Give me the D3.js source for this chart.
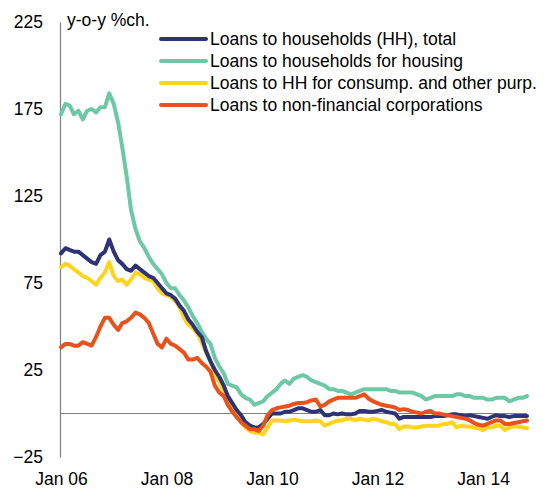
<!DOCTYPE html>
<html><head><meta charset="utf-8">
<script src="https://cdn.jsdelivr.net/npm/d3@7"></script>
<style>
body{margin:0;background:#fff;}
svg text{font-family:"Liberation Sans",Arial,sans-serif;fill:#000;}
</style></head>
<body><svg id="c" width="551" height="488"></svg>
<script>
const seriesNames = ["Loans to households (HH), total","Loans to households for housing","Loans to HH for consump. and other purp.","Loans to non-financial corporations"];
const seriesColors = ["#2e3378","#6dc8a6","#ffd41c","#e8521c"];
const yTicks = [-25, 25, 75, 125, 175, 225];
const xTickLabels = ["Jan 06","Jan 08","Jan 10","Jan 12","Jan 14"];
const xTickYears = [2006, 2008, 2010, 2012, 2014];

const householdsTotal = [92,95,94,93,93,91,89,87,86,91,93,100,93,88,86,83,82,85,83,81,79,78,75,72,69,68,66,62,59,54,51,47,44,36,30,25,21,16,10,6,2,-1,-5,-7,-8,-8,-6,-3,0,0,0,1,1,2,3,3,2,1,1,2,-1,-1,0,-0.5,0,-0.5,-0.5,0,1.5,1.5,1,1,1.5,2,1,0.5,0,-3,-2,-2,-2,-2,-2,-2,-2,-1.5,-1.5,-1.5,-1,-0.5,-0.5,-1,-1.5,-1,-1.5,-2,-2.5,-3,-2,-1,-1.5,-1.5,-2,-1.5,-1.5,-1.5,-1.5];
const housing = [172,178,177,172,174,169,174,175,173,176,176,184,178,167,153,136,117,106,99,95,90,86,83,80,75,72,72,68,65,61,56,52,47,43,40,32,27,23,17,16,15,11,9,8,5,6,7,10,12,14,17,19,17,20,21,22,21,19,18,17,16,14,14,13,13,12,11,12,13,14,14,14,14,14,14,13,13,12,12,12,12,11,10,8,9,10,10,10,10,10,11,11,10,10,9,9,9,8,8,9,9,9,7,8,9,9,10];
const consumption = [84,86,85,83,81,79,78,76,74,78,81,87,79,76,77,74,77,81,80,78,77,76,72,69,68,67,65,61,55,51,49,46,41,35,30,23,18,13,7,3,0,-5,-8,-10,-11,-11,-12,-8,-4,-4,-4,-4.5,-4,-3.5,-4,-4.5,-4.5,-4.5,-4,-4.5,-7,-6,-5,-4,-4,-3,-3,-4,-3,-3.5,-4,-3,-3.5,-4.5,-5,-6,-6,-9,-7.5,-7.5,-8,-8,-7.5,-7,-7,-7,-7,-6,-6,-5,-8,-7,-7.5,-7.5,-8,-8.5,-9.5,-8,-8,-7,-7,-9.5,-8,-7.5,-7.5,-8,-8.5];
const corporations = [38,40,40,39,39,41,40,39,44,50,55,55,51,48,52,53,55,58,57,55,52,46,40,38,43,40,39,37,35,31,31,32,29,27,24,16,12,10,5,1,-2,-5,-7,-9,-9,-10,-7,-1,2,3,3.5,4,4.5,5.5,6,6,6.5,7.5,8,4,5,7,8,9,9,9,9,9,10,11,8.5,7,6,5,4.5,4,3.5,2,2.5,2,1,0.5,0,1,1.5,0,0,-0.5,-1,-1.5,-2,-2.5,-3,-4,-5.5,-6.5,-7,-6,-5,-4,-4,-6,-6,-5.5,-5,-4.5,-4];

const allSeries = [householdsTotal, housing, consumption, corporations];
const months = householdsTotal.map((_, i) => new Date(2006, i, 1));

const svg = d3.select("#c");
const x = d3.scaleTime().domain([months[0], months[months.length-1]]).range([61, 527]);
const y = d3.scaleLinear().domain([-25, 225]).range([457, 22]);
const FS = "17.5px";

// y axis
const yAxis = d3.axisLeft(y).tickValues(yTicks).tickSize(0).tickPadding(17).tickFormat(d3.format("d"));
const gy = svg.append("g").attr("transform","translate(60,0)").call(yAxis);
gy.select(".domain").attr("stroke","#7f7f7f").attr("stroke-width",1.2);
gy.selectAll("text").style("font-size",FS);

// x axis labels
const xAxis = d3.axisBottom(x).tickValues(xTickYears.map(yr => new Date(yr,0,1)))
  .tickSize(0).tickPadding(0).tickFormat((d,i) => xTickLabels[i]);
const gx = svg.append("g").attr("transform","translate(0,457)").call(xAxis);
gx.select(".domain").remove();
gx.selectAll("text").style("font-size",FS).attr("y",28).attr("dy",null);

// zero line
svg.append("line").attr("x1",60).attr("x2",x(months[months.length-1]))
  .attr("y1",y(0)).attr("y2",y(0)).attr("stroke","#7f7f7f").attr("stroke-width",1.2);

const line = d3.line().x((d,i) => x(months[i])).y(d => y(d));
[1,2,0,3].forEach(k => {
  svg.append("path").datum(allSeries[k]).attr("d", line)
    .attr("fill","none").attr("stroke",seriesColors[k]).attr("stroke-width",4)
    .attr("stroke-linejoin","round").attr("stroke-linecap","round");
});

// unit label
svg.append("text").attr("x",67).attr("y",26).style("font-size",FS).text("y-o-y %ch.");

// legend
const lg = svg.append("g");
seriesNames.forEach((n,k) => {
  const yy = 39 + k*22;
  lg.append("line").attr("x1",161).attr("x2",206).attr("y1",yy).attr("y2",yy)
    .attr("stroke",seriesColors[k]).attr("stroke-width",4).attr("stroke-linecap","round");
  lg.append("text").attr("x",210).attr("y",yy+6).style("font-size",FS).text(n);
});
</script></body></html>
